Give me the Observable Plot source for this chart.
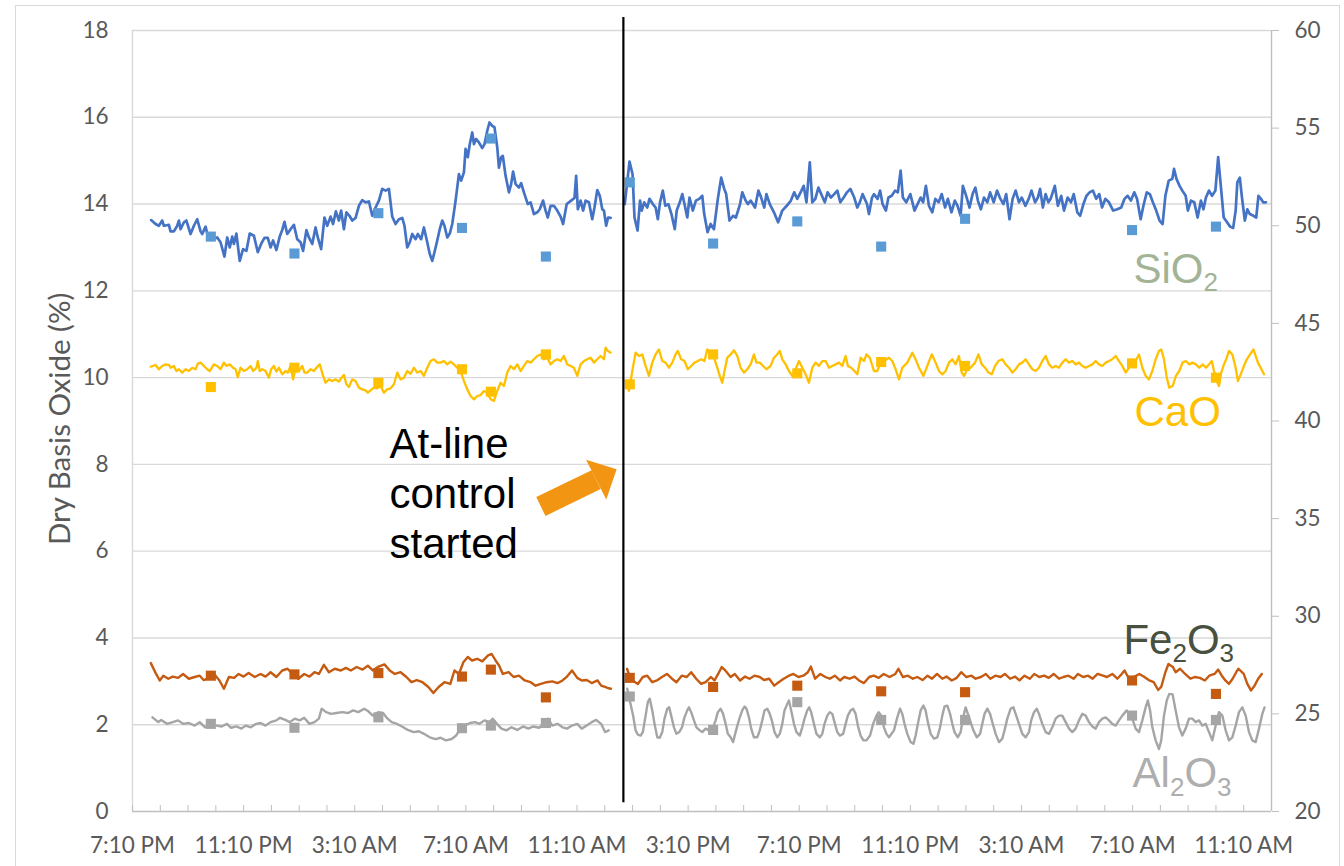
<!DOCTYPE html>
<html><head><meta charset="utf-8">
<script src="https://cdn.jsdelivr.net/npm/d3@7"></script>
<script src="https://cdn.jsdelivr.net/npm/@observablehq/plot@0.6"></script>
<style>
html,body{margin:0;padding:0;background:#fff;}
#wrap{position:relative;width:1344px;height:866px;overflow:hidden;background:#fff;}
#frame{position:absolute;left:15px;top:5px;width:1325px;height:900px;border:1px solid #D9D9D9;box-sizing:border-box;pointer-events:none;}
#chart svg{display:block;}
</style></head><body>
<div id="wrap"><div id="chart"></div><div id="frame"></div></div>
<script>
// ---------- axis ticks and labels ----------
const tickHours = [0, 4, 8, 12, 16, 20, 24, 28, 32, 36, 40];
const tickLabels = ["7:10 PM", "11:10 PM", "3:10 AM", "7:10 AM", "11:10 AM", "3:10 PM", "7:10 PM", "11:10 PM", "3:10 AM", "7:10 AM", "11:10 AM"];
const hourTicks = d3.range(0, 42);
const leftTicks = [0, 2, 4, 6, 8, 10, 12, 14, 16, 18];
const rightTicks = [20, 25, 30, 35, 40, 45, 50, 55, 60];
const yTitle = "Dry Basis Oxide (%)";

// ---------- laboratory samples (hours since 7:10 PM) ----------
const sampleTimes = [2.82, 5.83, 8.85, 11.86, 12.9, 14.88, 17.9, 20.9, 23.93, 26.95, 29.97, 35.98, 39.0];
const sio2Lab  = [13.25, 12.86, 13.79, 13.45, 15.51, 12.79, 14.50, 13.09, 13.60, 13.02, 13.66, 13.40, 13.48];
const caoLab   = [41.74, 42.73, 41.96, 42.65, 41.50, 43.41, 41.88, 43.41, 42.44, 43.02, 42.82, 42.95, 42.22]; // right axis
const fe2o3Lab = [3.13, 3.16, 3.19, 3.11, 3.27, 2.63, 3.08, 2.87, 2.90, 2.77, 2.75, 3.02, 2.71];
const al2o3Lab = [2.02, 1.93, 2.17, 1.92, 1.98, 2.04, 2.65, 1.88, 2.52, 2.11, 2.11, 2.21, 2.11];

// ---------- analyzer series [hour, value] ----------
const sio2Before = [[0.67,13.63],[0.83,13.54],[0.95,13.50],[1.07,13.62],[1.13,13.50],[1.31,13.52],[1.37,13.37],[1.49,13.37],[1.61,13.50],[1.67,13.62],[1.73,13.42],[1.85,13.58],[1.94,13.62],[2.09,13.31],[2.21,13.50],[2.33,13.65],[2.45,13.37],[2.51,13.31],[2.63,13.48],[2.71,13.27],[2.87,13.19],[3.05,13.23],[3.17,13.12],[3.31,12.79],[3.41,13.23],[3.50,13.00],[3.59,13.25],[3.65,13.08],[3.74,13.32],[3.86,12.69],[3.98,12.96],[4.10,12.92],[4.22,13.32],[4.37,13.27],[4.51,12.89],[4.63,13.08],[4.75,13.22],[4.87,13.22],[4.97,13.00],[5.06,13.16],[5.18,12.94],[5.30,13.25],[5.39,13.40],[5.47,13.59],[5.57,13.31],[5.69,13.42],[5.81,13.52],[5.93,13.19],[6.05,13.12],[6.14,12.92],[6.26,13.40],[6.35,13.23],[6.47,13.08],[6.59,13.46],[6.67,13.23],[6.79,12.96],[6.91,13.69],[7.01,13.50],[7.13,13.71],[7.22,13.54],[7.32,13.83],[7.43,13.62],[7.51,13.85],[7.61,13.42],[7.70,13.81],[7.81,13.73],[7.91,13.62],[8.03,13.68],[8.15,13.96],[8.27,14.09],[8.39,14.04],[8.51,14.06],[8.63,13.73],[8.75,13.92],[8.87,14.08],[8.99,14.35],[9.11,14.31],[9.23,14.35],[9.35,13.71],[9.47,13.54],[9.59,13.65],[9.71,13.68],[9.79,13.50],[9.89,13.00],[9.98,13.12],[10.07,13.31],[10.19,13.19],[10.27,13.31],[10.39,13.19],[10.49,13.46],[10.61,13.12],[10.70,12.85],[10.79,12.69],[10.87,12.89],[10.97,13.16],[11.06,13.42],[11.15,13.62],[11.23,13.50],[11.33,13.23],[11.42,13.32],[11.51,13.54],[11.63,14.08],[11.75,14.69],[11.83,14.54],[11.93,14.73],[11.99,15.27],[12.07,15.08],[12.14,15.38],[12.23,15.65],[12.29,15.38],[12.37,15.50],[12.47,15.42],[12.59,15.29],[12.67,15.38],[12.77,15.69],[12.85,15.88],[12.95,15.80],[13.03,15.77],[13.13,15.31],[13.19,14.84],[13.27,15.08],[13.33,15.11],[13.43,14.65],[13.55,14.27],[13.63,14.46],[13.70,14.75],[13.79,14.46],[13.91,14.38],[13.99,14.48],[14.11,14.23],[14.23,14.00],[14.33,14.04],[14.45,13.77],[14.57,13.81],[14.66,13.88],[14.78,14.08],[14.87,13.85],[14.95,13.69],[15.05,13.96],[15.17,13.96],[15.29,13.85],[15.41,13.71],[15.50,13.54],[15.63,14.00],[15.79,14.08],[15.91,14.14],[15.97,14.65],[16.03,13.88],[16.13,14.08],[16.22,13.85],[16.31,14.08],[16.43,14.04],[16.55,13.65],[16.63,13.92],[16.73,14.32],[16.82,14.19],[16.91,13.88],[16.97,13.85],[17.05,13.50],[17.12,13.69],[17.21,13.68]];
const sio2After = [[17.72,14.00],[17.89,14.98],[18.00,14.69],[18.07,13.69],[18.18,13.39],[18.27,14.08],[18.33,13.85],[18.42,14.04],[18.53,13.92],[18.61,14.12],[18.73,14.00],[18.83,13.92],[18.91,13.65],[18.99,14.04],[19.09,14.31],[19.18,13.96],[19.29,14.00],[19.40,13.77],[19.52,13.42],[19.59,13.85],[19.70,14.04],[19.79,14.23],[19.87,14.00],[19.97,13.69],[20.05,14.15],[20.17,13.85],[20.28,14.08],[20.40,14.12],[20.51,14.19],[20.58,13.77],[20.70,13.35],[20.81,13.54],[20.93,13.42],[21.07,14.12],[21.19,14.61],[21.30,14.35],[21.37,14.23],[21.49,13.62],[21.62,13.73],[21.72,13.69],[21.87,14.00],[21.95,14.27],[22.07,14.08],[22.15,14.00],[22.25,14.08],[22.41,13.92],[22.53,14.31],[22.63,14.15],[22.74,13.92],[22.82,14.23],[22.94,14.00],[23.09,13.81],[23.24,13.58],[23.39,13.85],[23.55,13.96],[23.70,14.08],[23.82,14.27],[23.93,14.12],[24.08,14.31],[24.16,14.42],[24.26,14.04],[24.38,14.96],[24.47,14.04],[24.58,14.12],[24.69,14.38],[24.79,14.23],[24.92,14.04],[25.02,14.27],[25.14,14.15],[25.26,14.23],[25.37,14.31],[25.48,14.04],[25.60,14.15],[25.72,14.27],[25.84,14.35],[25.98,14.15],[26.09,13.92],[26.18,14.04],[26.28,14.23],[26.44,14.00],[26.51,13.77],[26.62,14.15],[26.69,14.23],[26.82,14.12],[26.91,14.31],[27.00,14.00],[27.12,13.85],[27.21,14.15],[27.33,14.19],[27.45,14.31],[27.55,14.27],[27.65,14.77],[27.73,14.15],[27.85,14.04],[28.00,14.23],[28.15,13.85],[28.26,14.00],[28.37,14.15],[28.46,14.04],[28.56,14.42],[28.67,13.96],[28.79,13.81],[28.90,14.12],[29.02,14.04],[29.13,14.23],[29.25,13.92],[29.35,14.12],[29.48,13.81],[29.60,14.08],[29.70,13.96],[29.81,13.73],[29.89,14.42],[30.01,14.19],[30.13,13.92],[30.24,14.23],[30.34,14.38],[30.43,14.08],[30.54,13.88],[30.65,14.15],[30.77,14.04],[30.87,14.27],[31.00,14.04],[31.12,14.31],[31.22,14.15],[31.35,14.00],[31.45,14.23],[31.57,13.65],[31.68,14.12],[31.79,14.31],[31.91,14.04],[32.01,14.15],[32.14,13.96],[32.26,14.12],[32.36,14.31],[32.49,14.04],[32.59,14.15],[32.67,14.35],[32.77,13.92],[32.87,14.23],[32.97,14.04],[33.05,14.12],[33.20,14.42],[33.31,13.96],[33.43,14.19],[33.53,13.85],[33.66,14.15],[33.78,14.04],[33.88,14.23],[34.01,13.81],[34.11,13.73],[34.23,14.00],[34.34,14.19],[34.45,14.27],[34.57,14.31],[34.69,14.12],[34.80,14.23],[34.90,13.92],[35.02,14.12],[35.15,14.04],[35.30,13.85],[35.45,13.88],[35.59,13.92],[35.71,14.12],[35.82,14.19],[35.94,14.08],[36.06,14.27],[36.16,14.12],[36.29,13.65],[36.39,13.96],[36.51,14.27],[36.62,14.23],[36.73,14.04],[36.85,13.85],[36.97,13.62],[37.08,13.54],[37.18,14.19],[37.30,14.54],[37.43,14.58],[37.49,14.81],[37.58,14.58],[37.69,14.42],[37.79,14.31],[37.91,14.19],[37.99,13.85],[38.10,14.08],[38.22,14.04],[38.34,13.69],[38.46,14.08],[38.55,13.88],[38.64,14.15],[38.75,14.31],[38.86,14.19],[38.98,14.31],[39.08,15.08],[39.17,14.46],[39.28,13.69],[39.40,13.58],[39.51,13.48],[39.62,13.45],[39.71,13.85],[39.77,14.50],[39.86,14.61],[39.93,14.19],[40.04,13.62],[40.13,13.88],[40.22,13.77],[40.35,13.73],[40.45,13.69],[40.53,14.19],[40.62,14.12],[40.70,14.04],[40.80,14.04]];

// CaO is read on the right axis
const caoBefore = [[0.65,42.78],[0.83,42.87],[0.95,42.65],[1.07,42.82],[1.19,42.90],[1.31,42.87],[1.37,42.73],[1.49,42.82],[1.58,42.56],[1.67,42.65],[1.79,42.48],[1.91,42.65],[2.03,42.56],[2.15,42.73],[2.27,42.65],[2.35,42.94],[2.45,42.99],[2.57,42.82],[2.69,42.65],[2.78,42.56],[2.93,42.90],[3.05,42.82],[3.17,42.65],[3.29,42.99],[3.38,42.82],[3.50,42.90],[3.62,42.73],[3.71,42.65],[3.79,42.25],[3.89,42.73],[4.01,42.56],[4.13,42.65],[4.25,42.82],[4.34,42.56],[4.46,42.73],[4.51,43.07],[4.58,42.56],[4.67,42.65],[4.79,42.56],[4.91,42.22],[4.99,42.65],[5.09,42.82],[5.18,42.53],[5.27,42.73],[5.39,42.39],[5.51,42.56],[5.59,42.48],[5.69,42.82],[5.78,42.13],[5.87,42.73],[5.99,42.56],[6.11,42.82],[6.19,42.48],[6.29,42.48],[6.41,42.65],[6.53,42.56],[6.62,42.73],[6.74,42.90],[6.86,42.31],[6.95,41.96],[7.07,42.13],[7.19,42.05],[7.31,42.13],[7.43,42.02],[7.51,42.19],[7.61,42.36],[7.70,41.88],[7.79,41.74],[7.91,42.13],[8.03,42.05],[8.15,41.71],[8.27,41.62],[8.39,41.57],[8.47,41.45],[8.57,41.57],[8.69,41.71],[8.81,41.67],[8.93,41.79],[9.05,41.45],[9.17,41.62],[9.29,41.67],[9.41,41.88],[9.53,42.48],[9.65,42.13],[9.77,42.22],[9.89,42.56],[10.01,42.42],[10.13,42.73],[10.25,42.48],[10.37,42.56],[10.49,42.31],[10.61,42.73],[10.73,43.07],[10.85,43.16],[10.97,42.99],[11.09,42.99],[11.21,43.07],[11.33,42.90],[11.45,43.04],[11.57,42.90],[11.69,42.73],[11.81,42.56],[11.93,42.05],[12.05,41.62],[12.17,41.28],[12.29,41.11],[12.41,41.28],[12.53,41.33],[12.65,41.54],[12.77,41.45],[12.89,41.11],[13.01,41.03],[13.13,41.54],[13.25,41.96],[13.37,41.79],[13.49,42.48],[13.61,42.82],[13.73,42.65],[13.85,42.90],[13.97,42.56],[14.09,42.82],[14.21,43.07],[14.33,42.99],[14.45,43.16],[14.57,43.33],[14.69,43.41],[14.81,43.16],[14.93,43.24],[15.05,42.90],[15.17,43.07],[15.29,43.16],[15.41,43.07],[15.53,43.33],[15.65,42.90],[15.77,42.82],[15.89,42.73],[16.01,42.31],[16.13,42.90],[16.25,43.07],[16.37,43.16],[16.49,43.24],[16.61,42.99],[16.73,43.16],[16.85,43.33],[16.97,43.16],[17.03,43.76],[17.11,43.59],[17.21,43.50]];
const caoAfter = [[17.75,42.05],[17.87,41.54],[17.99,42.56],[18.11,43.50],[18.23,43.33],[18.35,43.41],[18.47,42.82],[18.59,42.31],[18.71,42.99],[18.83,43.41],[18.95,43.67],[19.07,43.07],[19.19,42.99],[19.31,42.73],[19.43,42.99],[19.55,43.41],[19.63,43.59],[19.75,43.16],[19.87,43.07],[19.99,42.65],[20.11,42.82],[20.23,42.99],[20.35,43.07],[20.47,43.16],[20.59,43.07],[20.69,43.67],[20.81,43.41],[20.93,43.24],[21.05,42.73],[21.14,42.31],[21.23,41.96],[21.31,42.56],[21.41,43.24],[21.53,43.41],[21.65,43.62],[21.77,43.33],[21.89,42.73],[22.01,42.48],[22.13,42.65],[22.25,42.90],[22.37,43.41],[22.46,42.99],[22.58,42.99],[22.70,42.82],[22.82,42.65],[22.97,42.82],[23.09,43.24],[23.21,43.41],[23.30,43.59],[23.39,43.16],[23.51,42.90],[23.63,42.56],[23.75,42.31],[23.87,42.65],[23.99,43.07],[24.11,42.73],[24.23,42.39],[24.35,41.96],[24.47,42.73],[24.59,42.99],[24.71,42.82],[24.83,43.07],[24.95,43.07],[25.07,42.73],[25.19,42.82],[25.31,42.90],[25.43,42.99],[25.55,42.82],[25.67,43.33],[25.75,42.82],[25.87,42.73],[25.99,42.56],[26.09,42.39],[26.21,43.24],[26.33,43.07],[26.42,43.41],[26.54,43.24],[26.69,42.56],[26.81,42.56],[26.93,42.99],[27.05,43.07],[27.23,43.24],[27.35,43.07],[27.47,42.65],[27.59,42.13],[27.71,42.73],[27.89,42.99],[28.07,43.50],[28.19,43.16],[28.31,42.73],[28.47,42.31],[28.61,42.82],[28.77,43.41],[28.91,42.99],[29.03,42.56],[29.15,42.39],[29.27,42.56],[29.39,42.99],[29.51,43.16],[29.63,42.90],[29.75,43.33],[29.85,42.48],[29.93,42.31],[30.05,42.65],[30.17,42.73],[30.33,42.99],[30.45,43.41],[30.57,42.90],[30.69,42.73],[30.81,42.48],[30.93,42.39],[31.05,42.82],[31.17,43.07],[31.31,43.16],[31.43,42.90],[31.55,42.73],[31.67,42.48],[31.79,42.65],[31.91,42.90],[32.03,42.99],[32.15,43.16],[32.27,42.90],[32.39,42.65],[32.51,42.56],[32.63,42.73],[32.75,43.07],[32.87,43.33],[32.99,42.90],[33.11,42.73],[33.23,42.82],[33.35,42.73],[33.47,42.99],[33.59,43.16],[33.71,42.99],[33.83,43.07],[33.95,42.90],[34.07,42.99],[34.19,42.82],[34.31,42.73],[34.43,42.82],[34.55,42.90],[34.67,43.07],[34.79,42.90],[34.91,42.82],[35.03,42.99],[35.15,43.07],[35.27,43.16],[35.39,43.33],[35.51,43.07],[35.63,42.82],[35.75,42.48],[35.87,42.73],[35.99,42.99],[36.11,43.07],[36.23,43.41],[36.35,42.73],[36.47,42.31],[36.59,42.13],[36.71,42.56],[36.83,43.16],[36.95,43.59],[37.03,43.67],[37.13,43.16],[37.23,42.22],[37.32,41.71],[37.44,41.79],[37.56,42.31],[37.68,42.56],[37.80,42.99],[37.92,43.07],[38.04,42.90],[38.16,42.99],[38.28,42.90],[38.40,42.73],[38.52,42.90],[38.64,42.73],[38.75,42.90],[38.85,43.07],[38.93,42.56],[39.03,42.05],[39.11,41.79],[39.19,42.48],[39.29,42.90],[39.39,43.24],[39.47,43.59],[39.59,43.41],[39.71,42.73],[39.79,42.05],[39.89,42.39],[40.01,42.82],[40.11,43.16],[40.23,43.41],[40.35,43.67],[40.43,43.33],[40.51,42.99],[40.61,42.73],[40.73,42.39]];

const fe2o3Before = [[0.66,3.42],[0.85,3.17],[0.98,3.02],[1.11,3.13],[1.29,3.06],[1.45,3.11],[1.64,3.08],[1.82,3.17],[2.03,3.06],[2.24,3.10],[2.42,3.13],[2.56,3.03],[2.77,3.08],[2.95,3.16],[3.13,3.02],[3.29,2.83],[3.47,3.10],[3.66,3.08],[3.82,3.17],[4.00,3.11],[4.18,3.19],[4.40,3.10],[4.61,3.17],[4.79,3.11],[4.97,3.21],[5.18,3.10],[5.39,3.25],[5.58,3.29],[5.76,3.17],[5.97,3.06],[6.18,3.17],[6.37,3.11],[6.55,3.21],[6.71,3.17],[6.89,3.38],[7.07,3.21],[7.28,3.29],[7.50,3.25],[7.68,3.31],[7.86,3.25],[8.07,3.33],[8.28,3.27],[8.47,3.36],[8.65,3.25],[8.86,3.34],[9.07,3.39],[9.26,3.25],[9.44,3.17],[9.65,3.21],[9.86,3.10],[10.04,2.98],[10.23,3.03],[10.44,2.98],[10.65,2.87],[10.83,2.73],[11.02,2.87],[11.23,2.98],[11.44,2.94],[11.59,3.25],[11.75,3.17],[11.91,3.44],[12.07,3.56],[12.22,3.48],[12.41,3.52],[12.59,3.46],[12.80,3.60],[12.93,3.63],[13.07,3.48],[13.20,3.36],[13.33,3.17],[13.54,3.21],[13.72,3.10],[13.91,3.13],[14.12,3.02],[14.33,2.98],[14.51,2.90],[14.70,2.94],[14.91,2.98],[15.11,3.00],[15.30,2.96],[15.48,3.02],[15.64,3.11],[15.82,3.25],[16.01,3.08],[16.17,3.02],[16.35,3.03],[16.53,2.96],[16.74,3.02],[16.87,2.90],[17.01,2.87],[17.14,2.84],[17.22,2.83]];
const fe2o3After = [[17.80,3.29],[17.87,3.17],[18.00,3.02],[18.19,2.94],[18.37,3.10],[18.53,3.13],[18.71,2.98],[18.90,3.03],[19.06,3.10],[19.24,3.17],[19.42,3.06],[19.58,2.98],[19.77,3.13],[19.95,3.10],[20.11,3.21],[20.29,3.06],[20.47,2.94],[20.63,2.98],[20.82,3.10],[20.95,3.02],[21.08,3.17],[21.21,3.33],[21.34,3.25],[21.53,3.10],[21.68,3.17],[21.87,3.02],[22.05,3.11],[22.21,3.06],[22.39,3.13],[22.58,3.10],[22.73,3.03],[22.92,3.06],[23.10,2.90],[23.26,2.98],[23.44,3.06],[23.63,3.13],[23.79,3.17],[23.97,3.10],[24.15,3.13],[24.31,3.21],[24.42,3.34],[24.57,3.06],[24.76,3.17],[24.94,3.10],[25.10,3.06],[25.28,3.13],[25.47,3.02],[25.62,3.10],[25.81,3.06],[25.99,3.11],[26.15,3.02],[26.33,2.96],[26.52,3.10],[26.68,3.13],[26.86,3.08],[27.04,3.17],[27.25,3.10],[27.46,3.17],[27.57,3.29],[27.73,3.10],[27.91,3.13],[28.09,3.06],[28.25,3.10],[28.44,3.03],[28.62,3.13],[28.78,3.06],[28.96,3.17],[29.15,3.06],[29.30,3.11],[29.49,3.02],[29.67,3.08],[29.83,3.21],[30.01,3.10],[30.20,3.13],[30.35,3.06],[30.54,3.10],[30.72,3.17],[30.88,3.06],[31.06,3.13],[31.25,3.10],[31.40,3.17],[31.59,3.06],[31.77,3.11],[31.93,3.02],[32.11,3.13],[32.30,3.06],[32.46,3.17],[32.64,3.10],[32.82,3.13],[32.98,3.08],[33.16,3.17],[33.35,3.06],[33.51,3.10],[33.69,3.13],[33.88,3.06],[34.03,3.17],[34.22,3.10],[34.40,3.13],[34.56,3.06],[34.74,3.17],[34.93,3.13],[35.08,3.10],[35.27,3.17],[35.45,3.06],[35.61,3.17],[35.71,3.25],[35.87,3.06],[36.05,3.10],[36.24,3.17],[36.40,3.11],[36.58,3.03],[36.76,2.98],[36.92,2.80],[37.03,2.87],[37.18,3.21],[37.29,3.40],[37.45,3.33],[37.55,3.21],[37.71,3.29],[37.89,3.17],[38.08,3.06],[38.24,3.10],[38.42,3.08],[38.60,3.02],[38.76,3.13],[38.95,3.17],[39.08,3.27],[39.21,3.13],[39.34,3.02],[39.47,2.94],[39.60,3.06],[39.73,3.21],[39.81,3.29],[40.00,3.17],[40.13,2.94],[40.26,2.79],[40.39,2.90],[40.52,3.06],[40.65,3.17]];

const al2o3Before = [[0.72,2.17],[0.93,2.06],[1.03,2.11],[1.24,2.02],[1.45,2.06],[1.64,2.10],[1.82,2.02],[2.03,2.04],[2.24,1.98],[2.42,2.06],[2.61,1.94],[2.82,2.02],[3.03,1.98],[3.21,1.96],[3.40,2.02],[3.55,1.93],[3.74,1.96],[3.92,1.91],[4.08,1.98],[4.26,1.94],[4.45,2.02],[4.61,2.04],[4.79,1.98],[4.97,2.06],[5.18,2.10],[5.31,2.16],[5.50,2.11],[5.66,2.06],[5.84,2.14],[6.02,2.10],[6.18,2.16],[6.37,2.02],[6.55,2.06],[6.71,2.14],[6.81,2.37],[6.97,2.29],[7.15,2.25],[7.34,2.27],[7.55,2.29],[7.76,2.27],[7.94,2.33],[8.13,2.29],[8.34,2.37],[8.49,2.31],[8.65,2.21],[8.86,2.29],[9.02,2.27],[9.18,2.14],[9.33,2.06],[9.52,2.02],[9.70,1.96],[9.91,1.88],[10.12,1.83],[10.31,1.85],[10.49,1.79],[10.70,1.71],[10.91,1.67],[11.09,1.70],[11.28,1.64],[11.49,1.67],[11.65,1.75],[11.80,1.91],[11.96,1.98],[12.15,2.04],[12.33,2.06],[12.49,2.02],[12.67,2.10],[12.86,2.06],[12.96,2.14],[13.12,2.02],[13.28,1.91],[13.46,1.87],[13.64,1.94],[13.85,1.88],[14.06,1.96],[14.25,1.91],[14.43,1.96],[14.64,1.93],[14.80,2.02],[14.96,2.14],[15.11,1.98],[15.30,2.02],[15.48,1.94],[15.64,1.91],[15.82,1.98],[16.01,2.02],[16.17,1.91],[16.35,1.98],[16.53,2.06],[16.69,2.11],[16.87,2.02],[17.01,1.83],[17.14,1.87]];
const al2o3After = [[17.81,2.83],[17.90,2.56],[18.02,2.21],[18.11,1.87],[18.19,1.77],[18.29,1.75],[18.37,1.83],[18.47,2.21],[18.55,2.52],[18.62,2.60],[18.71,2.33],[18.79,2.02],[18.89,1.71],[18.98,1.70],[19.07,1.83],[19.15,2.14],[19.25,2.37],[19.32,2.40],[19.39,2.21],[19.49,1.94],[19.58,1.79],[19.68,1.83],[19.78,1.94],[19.87,2.17],[19.97,2.33],[20.03,2.40],[20.11,2.29],[20.21,2.10],[20.30,1.94],[20.42,1.87],[20.51,1.83],[20.63,1.91],[20.75,1.87],[20.83,1.83],[20.90,1.94],[20.99,2.10],[21.07,2.29],[21.17,2.37],[21.26,2.25],[21.35,2.02],[21.43,1.79],[21.53,1.71],[21.62,1.60],[21.71,1.83],[21.79,2.02],[21.86,2.17],[21.95,2.33],[22.03,2.42],[22.10,2.37],[22.19,2.17],[22.27,1.91],[22.37,1.71],[22.49,1.71],[22.58,1.87],[22.67,2.10],[22.75,2.33],[22.85,2.37],[22.94,2.25],[23.03,2.06],[23.11,1.83],[23.21,1.71],[23.30,1.79],[23.39,2.02],[23.47,2.33],[23.57,2.48],[23.63,2.56],[23.71,2.33],[23.81,2.02],[23.90,1.83],[24.02,1.75],[24.11,1.94],[24.19,2.14],[24.29,2.33],[24.36,2.40],[24.43,2.29],[24.53,2.02],[24.62,1.79],[24.74,1.71],[24.83,1.79],[24.91,2.02],[25.01,2.21],[25.10,2.29],[25.19,2.25],[25.27,2.06],[25.37,1.83],[25.46,1.75],[25.58,1.79],[25.67,2.02],[25.75,2.21],[25.85,2.33],[25.94,2.37],[26.03,2.25],[26.11,1.98],[26.21,1.75],[26.31,1.64],[26.42,1.64],[26.55,1.75],[26.66,2.02],[26.78,2.21],[26.86,2.29],[26.95,2.21],[27.05,1.94],[27.14,1.79],[27.23,1.71],[27.41,1.87],[27.53,2.17],[27.63,2.37],[27.71,2.25],[27.79,2.02],[27.89,1.79],[28.01,1.60],[28.11,1.56],[28.19,1.75],[28.27,2.02],[28.37,2.33],[28.47,2.44],[28.55,2.33],[28.63,2.06],[28.73,1.79],[28.85,1.68],[28.97,1.71],[29.07,1.94],[29.15,2.21],[29.23,2.42],[29.33,2.44],[29.43,2.25],[29.51,2.02],[29.59,1.83],[29.71,1.71],[29.81,1.83],[29.89,2.14],[29.99,2.40],[30.07,2.25],[30.17,2.06],[30.27,1.87],[30.39,1.71],[30.51,1.79],[30.59,2.02],[30.67,2.25],[30.77,2.37],[30.87,2.25],[30.95,2.06],[31.07,1.79],[31.19,1.60],[31.31,1.68],[31.39,1.87],[31.49,2.14],[31.61,2.37],[31.71,2.40],[31.79,2.25],[31.91,2.02],[32.03,1.79],[32.15,1.71],[32.27,1.83],[32.35,2.10],[32.45,2.29],[32.55,2.37],[32.63,2.25],[32.75,2.02],[32.87,1.83],[32.99,1.79],[33.11,1.94],[33.23,2.14],[33.35,2.21],[33.47,2.21],[33.59,2.06],[33.71,1.91],[33.83,1.83],[33.95,1.91],[34.07,2.10],[34.19,2.25],[34.31,2.21],[34.43,2.06],[34.55,1.96],[34.67,1.91],[34.79,2.06],[34.91,2.14],[35.03,2.17],[35.15,2.10],[35.27,2.02],[35.39,1.98],[35.51,2.10],[35.63,2.21],[35.79,2.33],[35.87,2.25],[35.99,2.14],[36.11,1.91],[36.23,1.83],[36.35,2.10],[36.47,2.40],[36.55,2.56],[36.63,2.33],[36.71,1.94],[36.83,1.64],[36.95,1.44],[37.03,1.64],[37.13,2.21],[37.23,2.56],[37.32,2.71],[37.44,2.70],[37.55,2.33],[37.67,1.94],[37.79,1.75],[37.91,1.91],[38.03,2.14],[38.15,2.14],[38.27,2.06],[38.39,2.10],[38.51,1.98],[38.63,2.02],[38.75,1.83],[38.87,1.64],[38.99,1.98],[39.11,2.29],[39.23,2.21],[39.35,1.87],[39.47,1.64],[39.59,1.71],[39.71,1.98],[39.83,2.29],[39.95,2.40],[40.07,2.21],[40.19,1.83],[40.31,1.64],[40.43,1.60],[40.55,1.91],[40.67,2.25],[40.75,2.40]];

// ---------- annotations (data units) ----------
const controlStart = {hour: 17.67, from: 0.2, to: 18.3};
const arrowShaft = [[14.70, 7.03], [16.69, 7.65]];
const arrowHead = [[16.69, 7.65]];
const noteText = [{hour: 9.25, value: 8.97, text: "At-line\ncontrol\nstarted"}];
const seriesLabels = [
  {text: "SiO2",  hour: 36.03, value: 12.19, color: "#A3B496"},
  {text: "CaO",   hour: 36.07, value: 8.88,  color: "#FFC000"},
  {text: "Fe2O3", hour: 35.67, value: 3.64,  color: "#485040"},
  {text: "Al2O3", hour: 36.00, value: 0.56,  color: "#AEAEAE"}
];

// ---------- helpers ----------
const rightToLeft = v => (v - 20) * 18 / 40;
const leftToRight = v => v * 40 / 18 + 20;
const labelMap = new Map(tickHours.map((h, i) => [h, tickLabels[i]]));
const samples = sampleTimes.map((t, i) => ({t, sio2: sio2Lab[i], cao: rightToLeft(caoLab[i]), fe: fe2o3Lab[i], al: al2o3Lab[i]}));
const lineL = (data, stroke, w) => Plot.line(data, {x: d => d[0], y: d => d[1], stroke, strokeWidth: w, strokeLinejoin: "round", strokeLinecap: "round"});
const lineR = (data, stroke, w) => Plot.line(data, {x: d => d[0], y: d => rightToLeft(d[1]), stroke, strokeWidth: w, strokeLinejoin: "round", strokeLinecap: "round"});
const square = (y, fill) => Plot.dot(samples, {x: "t", y, symbol: "square", r: 5.7, fill, stroke: null});
const headSymbol = {draw(ctx) { ctx.moveTo(0, -23); ctx.lineTo(22.3, 0); ctx.lineTo(-22.3, 0); ctx.closePath(); }};

const AX = "#595959";
const plot = Plot.plot({
  width: 1344, height: 866,
  marginLeft: 132, marginRight: 73, marginTop: 30, marginBottom: 55,
  x: {domain: [0, 41]},
  y: {domain: [0, 18]},
  style: {fontFamily: "Lato, sans-serif", fontSize: "22.5px", background: "white", overflow: "visible", color: AX},
  marks: [
    Plot.gridY(leftTicks.filter(d => d > 0), {stroke: "#D9D9D9", strokeOpacity: 1, strokeWidth: 1.4}),
    Plot.ruleX([0], {stroke: "#D9D9D9", strokeWidth: 1.4}),
    Plot.ruleX([41], {stroke: "#BFBFBF", strokeWidth: 1.4}),
    Plot.axisY(leftTicks, {anchor: "left", tickSize: 0, tickPadding: 24, label: null, fill: AX}),
    Plot.axisY(rightTicks.map(rightToLeft), {anchor: "right", tickSize: 7, tickPadding: 16, stroke: "#BFBFBF", fill: AX, tickFormat: d => String(Math.round(leftToRight(d))), label: null}),
    Plot.axisX(hourTicks, {anchor: "bottom", tickSize: 6, dy: -6, stroke: "#BFBFBF", tickFormat: () => "", label: null}),
    Plot.axisX(tickHours, {anchor: "bottom", tickSize: 0, tickPadding: 26, fill: AX, tickFormat: d => labelMap.get(d), label: null}),
    Plot.ruleY([0], {stroke: "#BFBFBF", strokeWidth: 1.4}),
    Plot.text([yTitle], {x: () => 0, y: () => 9.05, text: d => d, dx: -72, rotate: -90, textAnchor: "middle", lineAnchor: "middle", fontSize: 29.5, fill: AX, fontFamily: "Lato, sans-serif"}),

    lineL(sio2Before, "#4472C4", 2.7), lineL(sio2After, "#4472C4", 2.7),
    lineR(caoBefore, "#FFC000", 2.3), lineR(caoAfter, "#FFC000", 2.3),
    lineL(fe2o3Before, "#C55A11", 2.4), lineL(fe2o3After, "#C55A11", 2.4),
    lineL(al2o3Before, "#A5A5A5", 2.4), lineL(al2o3After, "#A5A5A5", 2.4),

    square("sio2", "#5B9BD5"), square("cao", "#FFC000"), square("fe", "#C55A11"), square("al", "#A5A5A5"),

    Plot.ruleX([controlStart], {x: "hour", y1: "from", y2: "to", stroke: "black", strokeWidth: 2.2}),
    Plot.line(arrowShaft, {x: d => d[0], y: d => d[1], stroke: "#F29512", strokeWidth: 21, strokeLinecap: "butt"}),
    Plot.dot(arrowHead, {x: d => d[0], y: d => d[1], symbol: headSymbol, r: 10, fill: "#F29512", stroke: null, rotate: 63}),
    Plot.text(noteText, {x: "hour", y: "value", text: "text", textAnchor: "start", lineAnchor: "top", lineHeight: 1.19, fontSize: 42, fill: "black", fontFamily: "Liberation Sans, Arial, sans-serif"}),
    Plot.text(seriesLabels, {x: "hour", y: "value", text: "text", fill: "color", textAnchor: "start", lineAnchor: "bottom", fontSize: 42, fontFamily: "Liberation Sans, Arial, sans-serif"})
  ]
});
document.getElementById("chart").appendChild(plot);

// chemical formula subscripts
const names = new Set(seriesLabels.map(d => d.text));
d3.select(plot).selectAll("text").each(function () {
  const t = this.textContent;
  if (!names.has(t)) return;
  const fs = 42, shift = 0.21 * fs;
  const el = d3.select(this);
  el.text(null);
  let down = false;
  t.split(/(\d+)/).filter(s => s.length).forEach(part => {
    const isNum = /^\d+$/.test(part);
    const ts = el.append("tspan").text(part);
    if (isNum) { ts.attr("font-size", fs * 0.62).attr("dy", down ? 0 : shift); down = true; }
    else if (down) { ts.attr("dy", -shift); down = false; }
  });
});
</script></body></html>
